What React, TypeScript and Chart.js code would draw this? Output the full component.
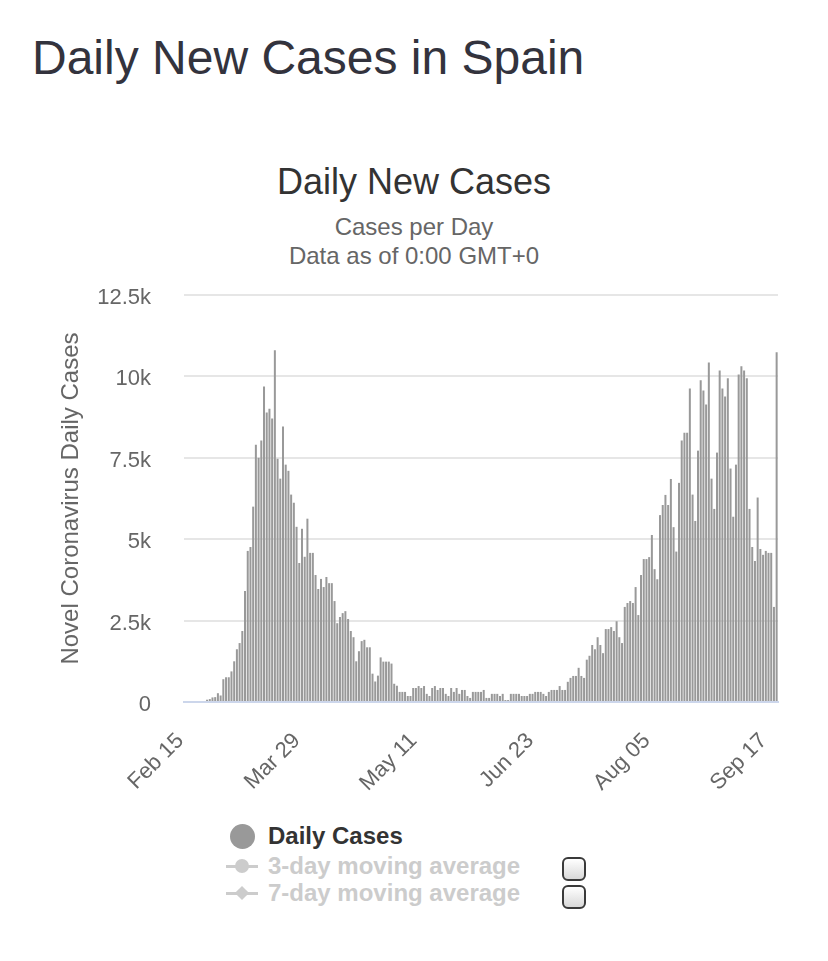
import React, { useEffect, useRef } from 'react';
import { Chart, registerables } from 'chart.js';

Chart.register(...registerables);

// ---------- DATA ----------
const START_DATE = Date.UTC(2020, 1, 15); // Feb 15, 2020
const DAY_COUNT = 219; // Feb 15 .. Sep 20
const MONTHS = ['Jan', 'Feb', 'Mar', 'Apr', 'May', 'Jun', 'Jul', 'Aug', 'Sep', 'Oct', 'Nov', 'Dec'];
const categories: string[] = Array.from({ length: DAY_COUNT }, (_, i) => {
  const d = new Date(START_DATE + i * 86400000);
  return MONTHS[d.getUTCMonth()] + ' ' + String(d.getUTCDate()).padStart(2, '0');
});

const tickLabels = ['Feb 15', 'Mar 29', 'May 11', 'Jun 23', 'Aug 05', 'Sep 17'];
const yTickValues = [0, 2500, 5000, 7500, 10000, 12500];

const dailyCases = [
  // Feb 15 - Feb 22
  0, 0, 0, 0, 0, 0, 0, 0,
  // Feb 23 - Mar 18
  70, 90, 140, 150, 270, 200, 700, 760, 760, 940, 1250, 1620, 1810, 2180, 3410, 4640, 4760, 6000,
  7900, 7500, 8030, 9690, 8890, 9010, 8710,
  // Mar 19 - Apr 19
  10800, 7470, 6860, 8460, 7290, 7100, 6370, 6120, 5380, 4270, 5320, 4460, 5630, 4580, 4580, 3900,
  3470, 3780, 3530, 3840, 3650, 3650, 3100, 2420, 2610, 2730, 2790, 2550, 2180, 1990, 1250, 1560,
  // Apr 20 - May 3
  1870, 1910, 1680, 1680, 870, 630, 810, 1370, 1240, 1240, 1240, 1180, 560, 500,
  // May 4 - May 30
  310, 310, 310, 185, 185, 430, 430, 490, 430, 490, 250, 185, 430, 490, 370, 430, 430, 250, 185,
  430, 310, 430, 250, 370, 370, 185, 125,
  // May 31 - Jul 13
  310, 310, 310, 310, 370, 125, 125, 250, 250, 250, 185, 250, 60, 60, 250, 250, 250, 250, 185, 185,
  185, 250, 250, 310, 310, 310, 250, 185, 310, 370, 370, 370, 490, 370, 370, 620, 740, 800, 800,
  1050, 800, 740, 1300, 1420,
  // Jul 14 - Aug 15
  1750, 1620, 1990, 1750, 1500, 2240, 2240, 2300, 2180, 2480, 1990, 1810, 2920, 3040, 3100, 3040,
  3530, 2670, 3900, 4390, 4390, 4450, 5130, 4080, 3770, 5740, 6050, 6360, 6050, 6850, 5370, 4620,
  6730,
  // Aug 16 - Sep 20
  8030, 8270, 8270, 9630, 6370, 5560, 7720, 9880, 9570, 9140, 10430, 6860, 5930, 7660, 10180, 9630,
  9380, 9940, 7170, 5690, 7290, 10060, 10310, 10180, 9940, 5930, 4760, 4330, 6280, 4700, 4520, 4640,
  4580, 4580, 2920, 10740,
];

const legendItems = ['Daily Cases', '3-day moving average', '7-day moving average'];

const FONT = '"Liberation Sans", Arial, Helvetica, sans-serif';

function BarChart() {
  const ref = useRef<HTMLCanvasElement | null>(null);
  useEffect(() => {
    if (!ref.current) return;
    const chart = new Chart(ref.current, {
      type: 'bar',
      data: {
        labels: categories,
        datasets: [
          {
            label: legendItems[0],
            data: dailyCases,
            backgroundColor: '#999999',
            borderWidth: 0,
            categoryPercentage: 1,
            barPercentage: 0.74,
          },
        ],
      },
      options: {
        responsive: false,
        animation: false,
        devicePixelRatio: 1,
        layout: { padding: { left: 0, right: 50, top: 15, bottom: 0 } },
        plugins: {
          legend: { display: false },
          tooltip: { enabled: false },
          title: { display: false },
        },
        scales: {
          x: {
            grid: { display: false },
            border: { display: true, color: '#ccd6eb', width: 2 },
            ticks: {
              autoSkip: false,
              minRotation: 45,
              maxRotation: 45,
              padding: 18,
              labelOffset: -5,
              color: '#666666',
              font: { family: FONT, size: 22 },
              callback: (_v: any, idx: number) =>
                tickLabels.includes(categories[idx]) ? categories[idx] : '',
            },
            afterFit: (s: any) => {
              s.height = 118;
            },
          },
          y: {
            min: 0,
            max: 12500,
            afterBuildTicks: (s: any) => {
              s.ticks = yTickValues.map((v) => ({ value: v }));
            },
            grid: {
              drawTicks: true,
              tickLength: 32,
              tickColor: 'rgba(0,0,0,0)',
              lineWidth: 2,
              color: (ctx: any) => (ctx.tick && ctx.tick.value === 0 ? 'rgba(0,0,0,0)' : '#e6e6e6'),
            },
            border: { display: false },
            ticks: {
              padding: 1,
              labelOffset: 3,
              color: '#666666',
              font: { family: FONT, size: 22 },
              callback: (v: any) => (Number(v) === 0 ? '0' : Number(v) / 1000 + 'k'),
            },
            title: {
              display: true,
              text: 'Novel Coronavirus Daily Cases',
              color: '#666666',
              font: { family: FONT, size: 24 },
              padding: { top: 57, bottom: 0 },
            },
            afterFit: (s: any) => {
              s.width = 184;
            },
          },
        },
      },
    });
    return () => chart.destroy();
  }, []);
  return <canvas ref={ref} width={828} height={540} style={{ width: 828, height: 540, display: 'block' }} />;
}

function LegendSymbol({ kind }: { kind: number }) {
  if (kind === 0) {
    return (
      <div
        style={{ position: 'absolute', left: 230, top: -12, width: 25, height: 25, borderRadius: '50%', background: '#999999' }}
      />
    );
  }
  return (
    <>
      <div style={{ position: 'absolute', left: 226, top: -1.5, width: 32, height: 3, background: '#cccccc' }} />
      {kind === 1 ? (
        <div
          style={{ position: 'absolute', left: 235, top: -7, width: 14, height: 14, borderRadius: '50%', background: '#cccccc' }}
        />
      ) : (
        <div
          style={{
            position: 'absolute',
            left: 237,
            top: -5,
            width: 10,
            height: 10,
            background: '#cccccc',
            transform: 'rotate(45deg)',
          }}
        />
      )}
    </>
  );
}

export default function App() {
  const legendY = [836, 866, 893];
  return (
    <div style={{ position: 'absolute', left: 0, top: 0, width: 828, height: 961, background: '#ffffff', fontFamily: FONT }}>
      <div
        style={{
          position: 'absolute',
          left: 32,
          top: 34,
          fontSize: 48,
          lineHeight: '48px',
          color: '#33333d',
          whiteSpace: 'nowrap',
        }}
      >
        Daily New Cases in Spain
      </div>
      <div
        style={{ position: 'absolute', left: 0, width: 828, top: 162, textAlign: 'center', fontSize: 36, lineHeight: '40px', color: '#333333' }}
      >
        Daily New Cases
      </div>
      <div
        style={{ position: 'absolute', left: 0, width: 828, top: 213, textAlign: 'center', fontSize: 24, lineHeight: '28px', color: '#666666' }}
      >
        Cases per Day
      </div>
      <div
        style={{ position: 'absolute', left: 0, width: 828, top: 242, textAlign: 'center', fontSize: 24, lineHeight: '28px', color: '#666666' }}
      >
        Data as of 0:00 GMT+0
      </div>
      <div style={{ position: 'absolute', left: 0, top: 280 }}>
        <BarChart />
      </div>
      {legendItems.map((t, i) => (
        <div key={t} style={{ position: 'absolute', left: 0, top: legendY[i], width: 828, height: 0 }}>
          <LegendSymbol kind={i} />
          <div
            style={{
              position: 'absolute',
              left: 268,
              top: -14,
              fontSize: 24,
              lineHeight: '28px',
              fontWeight: 'bold',
              color: i === 0 ? '#333333' : '#cccccc',
              whiteSpace: 'nowrap',
            }}
          >
            {t}
          </div>
        </div>
      ))}
      {[869, 897].map((cy) => (
        <div
          key={cy}
          style={{
            position: 'absolute',
            left: 562,
            top: cy - 12,
            width: 20,
            height: 20,
            borderRadius: 6,
            border: '2px solid #3a3a3a',
            background: 'linear-gradient(#ffffff, #d8d8d8)',
          }}
        />
      ))}
    </div>
  );
}
